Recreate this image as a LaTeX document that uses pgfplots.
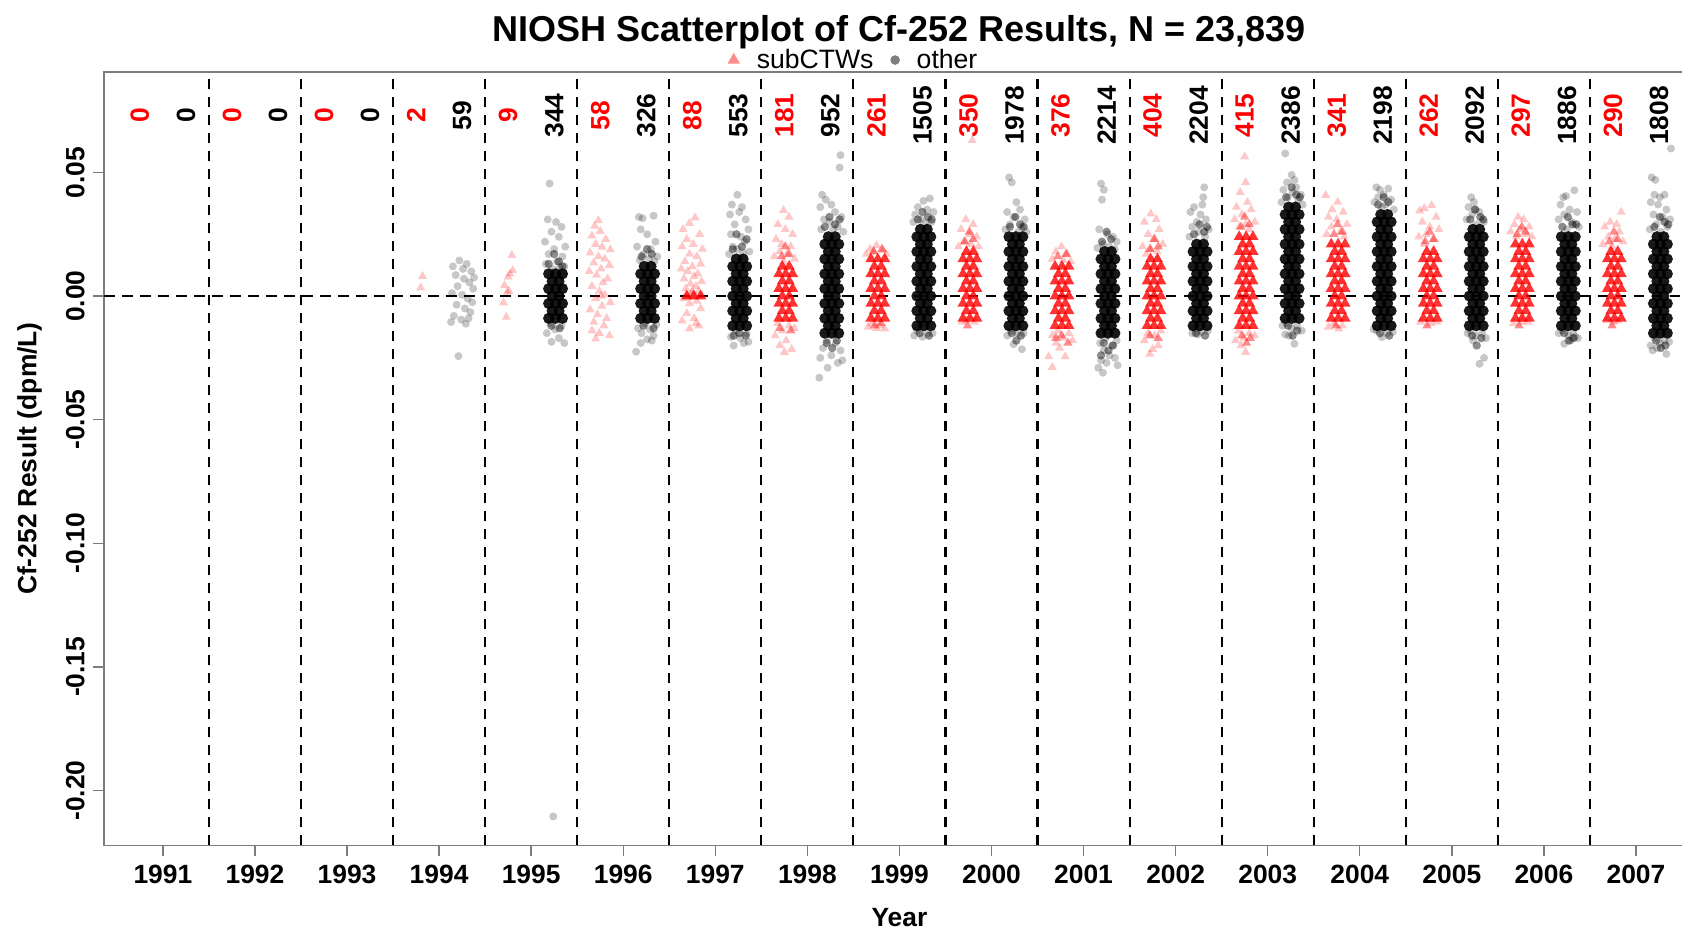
\documentclass[border=0pt]{standalone}
\usepackage{fontspec}
\setmainfont{Liberation Sans}
\usepackage{pgfplots}
\usepackage{pgfplotstable}
\pgfplotsset{compat=1.18}
\definecolor{axgray}{RGB}{125,125,125}
\newcommand\lab{\fontsize{13.2}{15}\selectfont\bfseries}

% dense cores of the "other" clouds (rows of 3 points)
\pgfplotstableread{
yr y
1995 -0.009
1995 -0.003
1995 0.003
1995 0.009
1996 -0.009
1996 -0.003
1996 0.003
1996 0.009
1997 -0.012
1997 -0.006
1997 0
1997 0.006
1997 0.012
1998 -0.015
1998 -0.009
1998 -0.003
1998 0.003
1998 0.009
1998 0.015
1998 0.021
1999 -0.012
1999 -0.006
1999 0
1999 0.006
1999 0.012
1999 0.018
1999 0.024
2000 -0.012
2000 -0.006
2000 0
2000 0.006
2000 0.012
2000 0.018
2000 0.024
2001 -0.015
2001 -0.009
2001 -0.003
2001 0.003
2001 0.009
2001 0.015
2002 -0.012
2002 -0.006
2002 0
2002 0.006
2002 0.012
2002 0.018
2003 -0.009
2003 -0.003
2003 0.003
2003 0.009
2003 0.015
2003 0.021
2003 0.027
2003 0.033
2004 -0.012
2004 -0.006
2004 0
2004 0.006
2004 0.012
2004 0.018
2004 0.024
2004 0.030
2005 -0.012
2005 -0.006
2005 0
2005 0.006
2005 0.012
2005 0.018
2005 0.024
2006 -0.012
2006 -0.006
2006 0
2006 0.006
2006 0.012
2006 0.018
2006 0.024
2007 -0.015
2007 -0.009
2007 -0.003
2007 0.003
2007 0.009
2007 0.015
2007 0.021
}\blackA
% (rows of 2 points)
\pgfplotstableread{
yr y
1995 -0.006
1995 0
1995 0.006
1996 -0.006
1996 0
1996 0.006
1996 0.012
1997 -0.009
1997 -0.003
1997 0.003
1997 0.009
1997 0.015
1998 -0.012
1998 -0.006
1998 0
1998 0.006
1998 0.012
1998 0.018
1998 0.024
1999 -0.009
1999 -0.003
1999 0.003
1999 0.009
1999 0.015
1999 0.021
1999 0.027
2000 -0.009
2000 -0.003
2000 0.003
2000 0.009
2000 0.015
2000 0.021
2001 -0.012
2001 -0.006
2001 0
2001 0.006
2001 0.012
2001 0.018
2002 -0.009
2002 -0.003
2002 0.003
2002 0.009
2002 0.015
2002 0.021
2003 -0.006
2003 0
2003 0.006
2003 0.012
2003 0.018
2003 0.024
2003 0.030
2003 0.036
2004 -0.009
2004 -0.003
2004 0.003
2004 0.009
2004 0.015
2004 0.021
2004 0.027
2004 0.033
2005 -0.009
2005 -0.003
2005 0.003
2005 0.009
2005 0.015
2005 0.021
2005 0.027
2006 -0.009
2006 -0.003
2006 0.003
2006 0.009
2006 0.015
2006 0.021
2007 -0.012
2007 -0.006
2007 0
2007 0.006
2007 0.012
2007 0.018
2007 0.024
}\blackB
% dense cores of the subCTWs clouds
\pgfplotstableread{
yr y
1997 0
1998 -0.009
1998 -0.003
1998 0.003
1998 0.009
1999 -0.009
1999 -0.003
1999 0.003
1999 0.009
1999 0.015
2000 -0.009
2000 -0.003
2000 0.003
2000 0.009
2000 0.015
2001 -0.012
2001 -0.006
2001 0
2001 0.006
2001 0.012
2002 -0.012
2002 -0.006
2002 0
2002 0.006
2002 0.012
2003 -0.012
2003 -0.006
2003 0
2003 0.006
2003 0.012
2003 0.018
2003 0.024
2004 -0.009
2004 -0.003
2004 0.003
2004 0.009
2004 0.015
2004 0.021
2005 -0.009
2005 -0.003
2005 0.003
2005 0.009
2005 0.015
2006 -0.009
2006 -0.003
2006 0.003
2006 0.009
2006 0.015
2006 0.021
2007 -0.009
2007 -0.003
2007 0.003
2007 0.009
2007 0.015
}\redA
\pgfplotstableread{
yr y
1998 -0.006
1998 0
1998 0.006
1998 0.012
1999 -0.006
1999 0
1999 0.006
1999 0.012
2000 -0.006
2000 0
2000 0.006
2000 0.012
2000 0.018
2001 -0.009
2001 -0.003
2001 0.003
2001 0.009
2002 -0.009
2002 -0.003
2002 0.003
2002 0.009
2002 0.015
2003 -0.009
2003 -0.003
2003 0.003
2003 0.009
2003 0.015
2003 0.021
2004 -0.006
2004 0
2004 0.006
2004 0.012
2004 0.018
2005 -0.006
2005 0
2005 0.006
2005 0.012
2005 0.018
2006 -0.006
2006 0
2006 0.006
2006 0.012
2006 0.018
2007 -0.006
2007 0
2007 0.006
2007 0.012
2007 0.018
}\redB
% points at the edges of the dense "other" cores
\pgfplotstableread{
x y
1995.19 0.013
1995.30 0.014
1995.25 0.017
1995.34 0.012
1995.22 -0.012
1995.31 -0.013
1996.20 0.016
1996.31 0.017
1996.26 0.019
1996.22 -0.012
1996.33 -0.013
1997.19 0.019
1997.29 0.020
1997.34 0.023
1997.23 0.025
1997.26 -0.015
1997.20 -0.016
1997.33 -0.016
1998.19 0.028
1998.30 0.029
1998.24 0.032
1998.35 0.031
1998.21 -0.019
1998.32 -0.018
1998.27 -0.021
1999.20 0.031
1999.31 0.032
1999.25 0.034
1999.35 0.031
1999.22 -0.015
1999.32 -0.016
2000.20 0.028
2000.31 0.029
2000.26 0.032
2000.35 0.028
2000.22 -0.015
2000.32 -0.016
2000.27 -0.018
2001.20 0.022
2001.30 0.023
2001.25 0.026
2001.22 -0.019
2001.32 -0.020
2001.27 -0.022
2001.19 -0.024
2002.20 0.025
2002.31 0.026
2002.26 0.029
2002.34 0.028
2002.22 -0.015
2002.32 -0.016
2003.20 0.040
2003.31 0.041
2003.26 0.044
2003.35 0.040
2003.22 -0.012
2003.32 -0.014
2003.27 -0.016
2004.20 0.037
2004.31 0.038
2004.26 0.040
2004.22 -0.015
2004.32 -0.016
2005.20 0.031
2005.31 0.032
2005.25 0.035
2005.34 0.031
2005.22 -0.016
2005.32 -0.017
2005.27 -0.020
2006.20 0.028
2006.31 0.029
2006.26 0.032
2006.35 0.029
2006.22 -0.015
2006.32 -0.017
2006.27 -0.018
2007.20 0.028
2007.31 0.030
2007.26 0.032
2007.35 0.029
2007.22 -0.018
2007.32 -0.020
2007.27 -0.021
}\blackmid
% points at the edges of the dense subCTWs cores
\pgfplotstableread{
x y
1997.72 0.016
1997.80 0.017
1997.76 0.020
1997.70 -0.013
1997.82 -0.014
1998.72 0.018
1998.81 0.019
1998.73 -0.012
1998.80 -0.011
1999.71 0.022
1999.80 0.023
1999.76 0.026
1999.74 -0.012
2000.72 0.016
2000.81 0.017
2000.76 -0.016
2000.70 -0.017
2000.83 -0.019
2001.72 0.019
2001.81 0.020
2001.77 0.023
2001.72 -0.016
2001.81 -0.017
2002.71 0.028
2002.80 0.029
2002.75 0.032
2002.72 -0.016
2002.81 -0.017
2002.77 -0.019
2003.72 0.025
2003.81 0.026
2003.76 0.029
2003.74 -0.012
2004.71 0.022
2004.80 0.023
2004.76 0.026
2004.73 -0.012
2005.71 0.025
2005.80 0.026
2005.76 0.028
2005.73 -0.012
2006.71 0.022
2006.80 0.023
2006.76 0.026
2006.74 -0.012
}\redmid
% scattered "other" points
\pgfplotstableread{
x y
1994.15 0.0120
1994.22 0.0144
1994.30 0.0130
1994.35 0.0100
1994.18 0.0085
1994.27 0.0070
1994.33 0.0055
1994.20 0.0040
1994.37 0.0030
1994.14 0.0012
1994.25 0.0005
1994.31 -0.0010
1994.36 -0.0025
1994.19 -0.0035
1994.28 -0.0050
1994.34 -0.0065
1994.16 -0.0080
1994.24 -0.0095
1994.32 -0.0090
1994.13 -0.0105
1994.29 -0.0112
1994.21 -0.0243
1994.38 0.0075
1994.26 0.0110
1995.20 0.0455
1995.18 0.031
1995.27 0.030
1995.33 0.028
1995.22 0.026
1995.30 0.024
1995.15 0.022
1995.37 0.020
1995.25 0.019
1995.19 0.017
1995.34 0.016
1995.28 0.014
1995.16 0.013
1995.36 0.012
1995.23 0.011
1995.31 0.0115
1995.21 -0.011
1995.33 -0.012
1995.26 -0.0135
1995.17 -0.015
1995.30 -0.017
1995.22 -0.0185
1995.36 -0.019
1995.24 -0.2105
1996.17 0.032
1996.21 0.0315
1996.33 0.0325
1996.19 0.027
1996.26 0.025
1996.35 0.022
1996.15 0.020
1996.30 0.019
1996.22 0.017
1996.37 0.016
1996.18 0.0145
1996.28 0.015
1996.34 0.014
1996.24 -0.011
1996.36 -0.0115
1996.16 -0.013
1996.29 -0.0135
1996.20 -0.015
1996.33 -0.016
1996.26 -0.0175
1996.19 -0.019
1996.31 -0.018
1996.14 -0.0225
1997.24 0.041
1997.18 0.037
1997.29 0.036
1997.16 0.033
1997.26 0.034
1997.33 0.031
1997.21 0.029
1997.36 0.027
1997.17 0.025
1997.28 0.024
1997.32 0.022
1997.19 0.020
1997.24 0.019
1997.37 0.018
1997.15 0.017
1997.30 0.0175
1997.22 -0.014
1997.34 -0.015
1997.17 -0.0165
1997.27 -0.017
1997.31 -0.019
1997.20 -0.020
1997.36 -0.0185
1998.36 0.057
1998.35 0.052
1998.16 0.041
1998.20 0.039
1998.26 0.037
1998.14 0.036
1998.30 0.034
1998.37 0.032
1998.18 0.031
1998.24 0.030
1998.33 0.028
1998.15 0.027
1998.28 0.027
1998.39 0.026
1998.21 -0.018
1998.31 -0.019
1998.17 -0.021
1998.36 -0.022
1998.26 -0.024
1998.14 -0.025
1998.33 -0.027
1998.22 -0.029
1998.38 -0.026
1998.13 -0.033
1999.26 0.0385
1999.33 0.0395
1999.20 0.036
1999.30 0.035
1999.17 0.033
1999.37 0.034
1999.23 0.031
1999.35 0.030
1999.15 0.030
1999.28 0.0295
1999.19 -0.014
1999.31 -0.015
1999.25 -0.0165
1999.36 -0.015
1999.16 -0.016
2000.19 0.048
2000.22 0.046
2000.27 0.038
2000.31 0.035
2000.17 0.034
2000.24 0.032
2000.36 0.031
2000.20 0.029
2000.33 0.028
2000.15 0.027
2000.29 0.026
2000.38 0.026
2000.21 -0.014
2000.35 -0.015
2000.17 -0.016
2000.28 -0.015
2000.24 -0.0195
2000.33 -0.0215
2001.19 0.0455
2001.22 0.043
2001.20 0.039
2001.17 0.027
2001.26 0.025
2001.32 0.024
2001.36 0.022
2001.21 0.021
2001.28 0.020
2001.15 0.0195
2001.34 0.019
2001.24 -0.017
2001.18 -0.019
2001.31 -0.020
2001.36 -0.018
2001.22 -0.022
2001.28 -0.024
2001.19 -0.026
2001.34 -0.025
2001.25 -0.027
2001.16 -0.029
2001.21 -0.031
2001.37 -0.028
2002.31 0.044
2002.30 0.040
2002.29 0.037
2002.20 0.036
2002.16 0.034
2002.27 0.033
2002.23 0.030
2002.33 0.031
2002.18 0.028
2002.36 0.027
2002.25 0.026
2002.15 0.024
2002.32 0.024
2002.21 -0.013
2002.35 -0.014
2002.18 -0.015
2002.28 -0.0145
2002.24 -0.0155
2003.19 0.0577
2003.26 0.049
2003.29 0.047
2003.21 0.046
2003.31 0.044
2003.17 0.043
2003.27 0.042
2003.36 0.041
2003.22 0.040
2003.33 0.039
2003.15 0.038
2003.38 0.037
2003.20 -0.011
2003.32 -0.012
2003.26 -0.013
2003.16 -0.012
2003.37 -0.014
2003.23 -0.016
2003.29 -0.0193
2003.19 -0.0155
2004.18 0.044
2004.22 0.043
2004.31 0.0435
2004.26 0.041
2004.20 0.040
2004.34 0.039
2004.16 0.038
2004.28 0.037
2004.24 0.036
2004.37 0.035
2004.19 -0.014
2004.30 -0.015
2004.36 -0.0145
2004.24 -0.0166
2004.15 -0.0135
2005.21 0.040
2005.24 0.038
2005.18 0.036
2005.26 0.035
2005.30 0.034
2005.22 0.033
2005.16 0.031
2005.35 0.030
2005.27 0.029
2005.20 -0.014
2005.33 -0.015
2005.26 -0.016
2005.17 -0.015
2005.37 -0.017
2005.23 -0.018
2005.30 -0.0274
2005.35 -0.025
2006.21 0.040
2006.24 0.0405
2006.33 0.0428
2006.18 0.037
2006.28 0.035
2006.36 0.034
2006.22 0.033
2006.16 0.031
2006.30 0.030
2006.38 0.028
2006.25 0.027
2006.20 -0.014
2006.32 -0.015
2006.27 -0.016
2006.16 -0.015
2006.37 -0.017
2006.22 -0.0193
2006.29 -0.018
2006.34 -0.0165
2007.38 0.0597
2007.17 0.048
2007.21 0.047
2007.20 0.041
2007.26 0.040
2007.31 0.041
2007.16 0.038
2007.24 0.037
2007.33 0.035
2007.19 0.033
2007.29 0.032
2007.37 0.031
2007.22 0.029
2007.34 0.028
2007.15 0.027
2007.27 0.026
2007.20 -0.017
2007.31 -0.018
2007.26 -0.019
2007.16 -0.020
2007.36 -0.0185
2007.23 -0.021
2007.33 -0.0234
2007.18 -0.022
}\blacktail
% scattered subCTWs points
\pgfplotstableread{
x y
1993.82 0.0080
1993.80 0.0034
1994.79 0.0165
1994.80 0.0104
1994.77 0.0090
1994.75 0.0077
1994.71 0.0043
1994.74 0.0016
1994.70 -0.0027
1994.76 0.0020
1994.73 -0.0085
1995.73 0.0306
1995.69 0.0283
1995.75 0.0262
1995.66 0.0244
1995.81 0.0230
1995.70 0.0210
1995.77 0.0198
1995.86 0.0188
1995.64 0.0175
1995.73 0.0160
1995.80 0.0150
1995.68 0.0135
1995.85 0.0125
1995.76 0.0110
1995.63 0.0100
1995.71 0.0085
1995.83 0.0070
1995.78 0.0055
1995.66 0.0040
1995.74 0.0020
1995.80 0.0005
1995.70 -0.0010
1995.86 -0.0025
1995.77 -0.0040
1995.64 -0.0055
1995.72 -0.0075
1995.82 -0.0090
1995.68 -0.0105
1995.79 -0.0120
1995.66 -0.0140
1995.74 -0.0150
1995.85 -0.0160
1995.70 -0.0173
1995.76 0.0
1996.78 0.0317
1996.72 0.0295
1996.65 0.027
1996.83 0.025
1996.69 0.023
1996.76 0.021
1996.64 0.020
1996.86 0.019
1996.72 0.017
1996.80 0.016
1996.67 0.014
1996.84 0.013
1996.75 0.012
1996.63 0.011
1996.70 0.010
1996.81 0.009
1996.77 0.008
1996.66 0.007
1996.85 0.006
1996.73 0.005
1996.79 0.004
1996.68 0.003
1996.82 0.002
1996.74 0.001
1996.70 0.0
1996.78 0.0
1996.86 0.0
1996.66 -0.001
1996.80 -0.002
1996.72 -0.003
1996.84 -0.005
1996.69 -0.007
1996.77 -0.009
1996.64 -0.010
1996.82 -0.012
1996.72 -0.0132
1996.79 -0.011
1996.75 0.002
1997.74 0.0347
1997.80 0.032
1997.68 0.029
1997.76 0.027
1997.84 0.025
1997.66 0.023
1997.72 0.021
1997.82 0.020
1997.70 0.018
1997.78 0.017
1997.64 0.016
1997.86 0.015
1997.74 0.014
1997.68 -0.011
1997.80 -0.012
1997.73 -0.014
1997.86 -0.013
1997.65 -0.016
1997.77 -0.018
1997.70 -0.020
1997.83 -0.0215
1997.75 -0.0227
1998.75 0.0205
1998.68 0.019
1998.82 0.0185
1998.72 0.018
1998.64 0.017
1998.86 0.017
1998.70 -0.011
1998.79 -0.012
1998.66 -0.0125
1998.84 -0.0132
1998.75 -0.013
1999.79 0.063
1999.72 0.031
1999.80 0.029
1999.67 0.027
1999.76 0.025
1999.84 0.024
1999.70 0.022
1999.78 0.021
1999.64 0.020
1999.86 0.020
1999.73 -0.010
1999.82 -0.0105
1999.68 -0.0105
2000.76 0.020
2000.70 0.018
2000.82 0.017
2000.66 0.015
2000.78 0.0145
2000.86 0.014
2000.72 -0.014
2000.84 -0.015
2000.66 -0.016
2000.78 -0.017
2000.70 -0.019
2000.88 -0.018
2000.74 -0.021
2000.62 -0.0245
2000.80 -0.0245
2000.66 -0.0288
2001.73 0.0333
2001.79 0.031
2001.66 0.030
2001.82 0.027
2001.70 0.025
2001.76 0.023
2001.86 0.021
2001.64 0.020
2001.73 0.019
2001.80 0.018
2001.68 0.017
2001.84 -0.014
2001.70 -0.015
2001.77 -0.016
2001.66 -0.018
2001.81 -0.020
2001.72 -0.0234
2001.75 -0.0215
2002.75 0.0564
2002.76 0.046
2002.70 0.042
2002.78 0.038
2002.66 0.036
2002.82 0.035
2002.72 0.033
2002.64 0.031
2002.86 0.030
2002.76 0.029
2002.69 0.028
2002.80 0.027
2002.68 -0.014
2002.80 -0.015
2002.74 -0.017
2002.86 -0.016
2002.65 -0.018
2002.76 -0.0227
2002.71 -0.020
2003.63 0.0408
2003.76 0.038
2003.70 0.035
2003.82 0.034
2003.66 0.032
2003.75 0.031
2003.86 0.029
2003.69 0.028
2003.79 0.026
2003.64 0.025
2003.83 0.024
2003.72 -0.011
2003.81 -0.012
2003.66 -0.0125
2003.77 -0.0132
2004.65 0.0345
2004.70 0.0355
2004.78 0.0367
2004.83 0.032
2004.68 0.030
2004.76 0.028
2004.86 0.027
2004.72 0.025
2004.64 0.024
2004.81 0.023
2004.70 0.021
2004.77 -0.011
2004.66 -0.0105
2004.84 -0.0105
2005.72 0.032
2005.78 0.031
2005.68 0.029
2005.84 0.028
2005.74 0.027
2005.64 0.026
2005.81 0.025
2005.70 0.024
2005.87 0.024
2005.76 -0.0105
2005.67 -0.011
2005.83 -0.0105
2006.84 0.034
2006.72 0.030
2006.79 0.029
2006.66 0.028
2006.82 0.026
2006.70 0.024
2006.77 0.023
2006.86 0.022
2006.64 0.021
2006.74 0.020
2006.80 -0.010
2006.68 -0.0099
2006.76 -0.0105
}\redtail
% counts per year
\pgfplotstableread{
x y n
1990.75 0.073 0
1991.75 0.073 0
1992.75 0.073 0
1993.75 0.073 2
1994.75 0.073 9
1995.75 0.073 58
1996.75 0.073 88
1997.75 0.073 181
1998.75 0.073 261
1999.75 0.073 350
2000.75 0.073 376
2001.75 0.073 404
2002.75 0.073 415
2003.75 0.073 341
2004.75 0.073 262
2005.75 0.073 297
2006.75 0.073 290
}\redcounts
\pgfplotstableread{
x y n
1991.25 0.073 0
1992.25 0.073 0
1993.25 0.073 0
1994.25 0.073 59
1995.25 0.073 344
1996.25 0.073 326
1997.25 0.073 553
1998.25 0.073 952
1999.25 0.073 1505
2000.25 0.073 1978
2001.25 0.073 2214
2002.25 0.073 2204
2003.25 0.073 2386
2004.25 0.073 2198
2005.25 0.073 2092
2006.25 0.073 1886
2007.25 0.073 1808
}\blackcounts

\pgfplotsset{
  tailblack/.style={only marks, forget plot, mark=*, mark size=2pt,
    mark options={draw opacity=0, fill=black, fill opacity=0.22}},
  midblack/.style={only marks, forget plot, mark=*, mark size=2.1pt,
    mark options={draw opacity=0, fill=black, fill opacity=0.45}},
  coreblack/.style={only marks, forget plot, mark=*, mark size=2.8pt,
    mark options={draw opacity=0, fill=black, fill opacity=0.9}},
  tailred/.style={only marks, forget plot, mark=triangle*, mark size=2.6pt,
    mark options={draw opacity=0, fill=red, fill opacity=0.22}},
  midred/.style={only marks, forget plot, mark=triangle*, mark size=2.7pt,
    mark options={draw opacity=0, fill=red, fill opacity=0.45}},
  corered/.style={only marks, forget plot, mark=triangle*, mark size=3.2pt,
    mark options={draw opacity=0, fill=red, fill opacity=0.8}},
}

\begin{document}
\begin{tikzpicture}
\begin{axis}[
  scale only axis, width=795.6pt, height=386.8pt,
  xmin=1990.36, xmax=2007.64, ymin=-0.2222, ymax=0.0907,
  axis line style={axgray, line width=0.7pt},
  tick style={axgray, line width=0.7pt},
  tick align=outside, major tick length=5.3pt,
  xtick pos=left, ytick pos=left,
  xtick={1991,1992,1993,1994,1995,1996,1997,1998,1999,2000,2001,2002,2003,2004,2005,2006,2007},
  xticklabels={1991,1992,1993,1994,1995,1996,1997,1998,1999,2000,2001,2002,2003,2004,2005,2006,2007},
  ytick={-0.2,-0.15,-0.1,-0.05,0,0.05},
  yticklabels={-0.20,-0.15,-0.10,-0.05,0.00,0.05},
  ticklabel style={font=\lab, text=black},
  xticklabel style={anchor=base},
  yticklabel style={rotate=90, anchor=base},
  xticklabel shift=14pt,
  yticklabel shift=4.5pt,
  extra x ticks={1991.5,1992.5,1993.5,1994.5,1995.5,1996.5,1997.5,1998.5,1999.5,2000.5,2001.5,2002.5,2003.5,2004.5,2005.5,2006.5},
  extra x tick labels={},
  extra x tick style={grid=major, major tick length=0pt,
    major grid style={black, line width=1.05pt, dash pattern=on 5.3pt off 3.7pt}},
  legend style={at={(0.3917,1.0153)}, anchor=west, draw=none, fill=none,
    legend columns=2, font=\fontsize{13.3}{15}\selectfont, inner sep=0pt,
    /tikz/every odd column/.append style={column sep=6.4pt},
    /tikz/every even column/.append style={column sep=6.4pt}},
  legend cell align=left,
]
\addlegendimage{only marks, mark=triangle*, mark size=3.6pt, mark options={draw opacity=0, fill=red, fill opacity=0.45}}
\addlegendentry{subCTWs}
\addlegendimage{only marks, mark=*, mark size=2.4pt, mark options={draw opacity=0, fill=black, fill opacity=0.5}}
\addlegendentry{other}

\addplot[tailred] table[x=x, y=y] {\redtail};
\addplot[midred] table[x=x, y=y] {\redmid};
\addplot[corered] table[x expr=\thisrow{yr}-0.31, y=y] {\redA};
\addplot[corered] table[x expr=\thisrow{yr}-0.235, y=y] {\redA};
\addplot[corered] table[x expr=\thisrow{yr}-0.16, y=y] {\redA};
\addplot[corered] table[x expr=\thisrow{yr}-0.2725, y=y] {\redB};
\addplot[corered] table[x expr=\thisrow{yr}-0.1975, y=y] {\redB};

\addplot[tailblack] table[x=x, y=y] {\blacktail};
\addplot[midblack] table[x=x, y=y] {\blackmid};
\addplot[coreblack] table[x expr=\thisrow{yr}+0.19, y=y] {\blackA};
\addplot[coreblack] table[x expr=\thisrow{yr}+0.265, y=y] {\blackA};
\addplot[coreblack] table[x expr=\thisrow{yr}+0.34, y=y] {\blackA};
\addplot[coreblack] table[x expr=\thisrow{yr}+0.228, y=y] {\blackB};
\addplot[coreblack] table[x expr=\thisrow{yr}+0.302, y=y] {\blackB};

\addplot[black, line width=1.05pt, dash pattern=on 5.3pt off 3.7pt, forget plot]
  coordinates {(1990.36,0) (2007.64,0)};

\addplot[draw=none, mark=none, forget plot, nodes near coords, point meta=explicit symbolic,
  every node near coord/.style={rotate=90, anchor=center, font=\lab, text=red}]
  table[x=x, y=y, meta=n] {\redcounts};
\addplot[draw=none, mark=none, forget plot, nodes near coords, point meta=explicit symbolic,
  every node near coord/.style={rotate=90, anchor=center, font=\lab, text=black}]
  table[x=x, y=y, meta=n] {\blackcounts};

\coordinate (ll) at (rel axis cs:0,0);
\coordinate (ur) at (rel axis cs:0.9919,1);
\coordinate (tc) at (rel axis cs:0.5,1);
\coordinate (bc) at (rel axis cs:0.5,0);
\coordinate (lc) at (rel axis cs:0,0.5);
\end{axis}
\node[font=\fontsize{18}{20}\selectfont\bfseries, anchor=base] at ([yshift=15pt]tc)
  {NIOSH Scatterplot of Cf-252 Results, N = 23,839};
\node[font=\lab, anchor=base] at ([yshift=-40.5pt]bc) {Year};
\node[font=\lab, anchor=base, rotate=90] at ([xshift=-33.8pt]lc) {Cf-252 Result (dpm/L)};
\pgfresetboundingbox
\path ([shift={(-52pt,-41.85pt)}]ll) rectangle ([shift={(0pt,35.95pt)}]ur);
\end{tikzpicture}
\end{document}
